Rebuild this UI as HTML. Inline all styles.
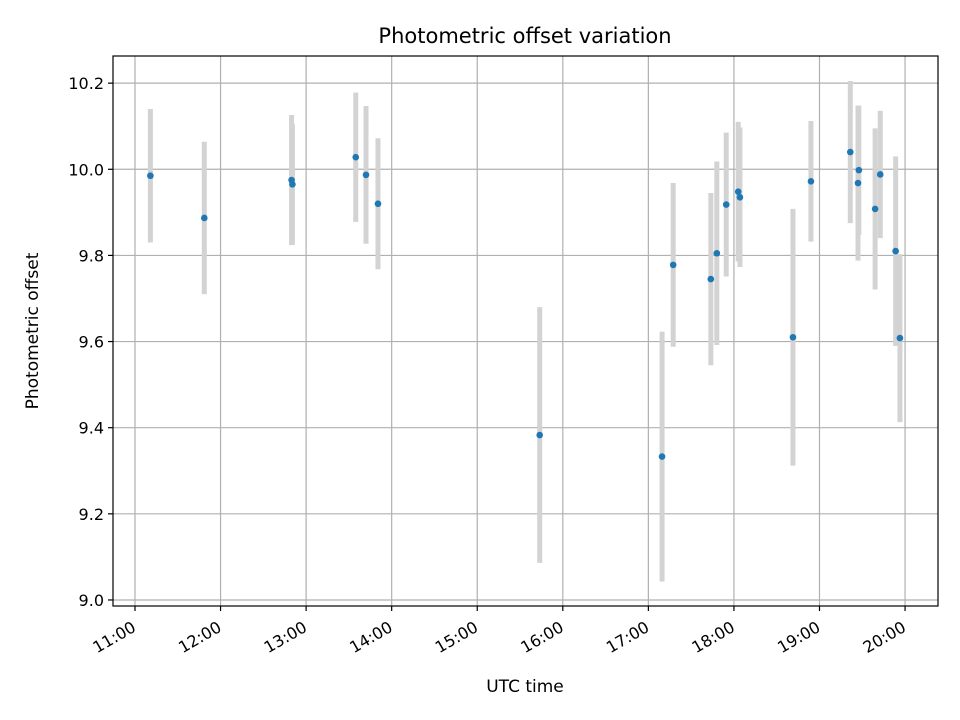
<!DOCTYPE html>
<html><head><meta charset="utf-8"><style>
body{margin:0;background:#fff;}
svg{display:block;font-family:"DejaVu Sans","Liberation Sans",sans-serif;}
</style></head><body>
<svg id="chart" width="960" height="720" viewBox="0 0 960 720">
<rect width="960" height="720" fill="#fff"/>
<g id="grid"></g>
<g id="bars"></g>
<g id="pts"></g>
<rect x="113" y="56" width="825" height="550" fill="none" stroke="#000" stroke-width="1.2"/>
<g id="axes"></g>
<text x="525" y="43" text-anchor="middle" font-size="21">Photometric offset variation</text>
<text x="525" y="692" text-anchor="middle" font-size="17">UTC time</text>
<text transform="translate(38,331) rotate(-90)" text-anchor="middle" font-size="17">Photometric offset</text>
</svg>
<script>
const times=[11.18,11.81,12.83,12.84,13.58,13.70,13.84,15.73,17.16,17.29,17.73,17.80,17.91,18.05,18.07,18.69,18.90,19.36,19.46,19.45,19.65,19.71,19.89,19.94];
const offsets=[9.985,9.887,9.975,9.965,10.028,9.987,9.920,9.383,9.333,9.778,9.745,9.805,9.918,9.948,9.935,9.610,9.972,10.040,9.998,9.968,9.908,9.988,9.810,9.608];
const errors=[0.155,0.177,0.151,0.140,0.150,0.160,0.152,0.297,0.290,0.190,0.200,0.213,0.167,0.162,0.162,0.298,0.140,0.165,0.150,0.180,0.187,0.148,0.220,0.195];
const xTicks=[11,12,13,14,15,16,17,18,19,20];
const xTickLabels=["11:00","12:00","13:00","14:00","15:00","16:00","17:00","18:00","19:00","20:00"];
const yTicks=[9.0,9.2,9.4,9.6,9.8,10.0,10.2];
const yTickLabels=["9.0","9.2","9.4","9.6","9.8","10.0","10.2"];
const X0=113,X1=938,Y0=606,Y1=56,xmin=10.743,xmax=20.385,ymin=8.986,ymax=10.263;
const sx=v=>X0+(v-xmin)/(xmax-xmin)*(X1-X0);
const sy=v=>Y0-(v-ymin)/(ymax-ymin)*(Y0-Y1);
const NS="http://www.w3.org/2000/svg";
function mk(tag,attrs,parent){const e=document.createElementNS(NS,tag);for(const k in attrs)e.setAttribute(k,attrs[k]);parent.appendChild(e);return e;}
const grid=document.getElementById('grid'),axes=document.getElementById('axes'),bars=document.getElementById('bars'),pts=document.getElementById('pts');
xTicks.forEach((t,i)=>{const x=sx(t);
 const g=mk('line',{x1:x,x2:x,y1:Y1,y2:Y0,stroke:'#b0b0b0','stroke-width':1.2},grid);
 
 
 const tk=mk('line',{x1:x,x2:x,y1:Y0,y2:Y0+5,stroke:'#000','stroke-width':1.2},axes);
 
 
 const tx=mk('text',{transform:`translate(${x-4},${Y0+14}) rotate(-30)`,'text-anchor':'end','dominant-baseline':'hanging','font-size':16},axes);
 tx.textContent=xTickLabels[i];
 
 
});
yTicks.forEach((t,i)=>{const y=sy(t);
 const g=mk('line',{x1:X0,x2:X1,y1:y,y2:y,stroke:'#b0b0b0','stroke-width':1.2},grid);
 
 
 const tk=mk('line',{x1:X0-5,x2:X0,y1:y,y2:y,stroke:'#000','stroke-width':1.2},axes);
 
 
 const tx=mk('text',{x:X0-9,y:y+6,'text-anchor':'end','font-size':16},axes);
 tx.textContent=yTickLabels[i];
 
 
});
times.forEach((t,i)=>{const x=sx(t);
 const b=mk('line',{x1:x,x2:x,y1:sy(offsets[i]+errors[i]),y2:sy(offsets[i]-errors[i]),stroke:'#d3d3d3','stroke-width':5},bars);
 
 
 const c=mk('circle',{cx:x,cy:sy(offsets[i]),r:3.3,fill:'#1f77b4'},pts);
 
 
});
</script>
</body></html>
